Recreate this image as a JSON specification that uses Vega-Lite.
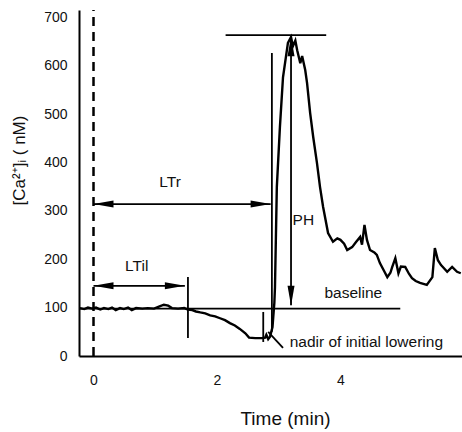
{
  "$schema": "https://vega.github.io/schema/vega-lite/v6.json",
  "width": 383,
  "height": 346,
  "autosize": "none",
  "padding": {"left": 79, "top": 10, "right": 0, "bottom": 76},
  "config": {
    "view": {"stroke": null},
    "font": "Liberation Sans",
    "axis": {"grid": false, "ticks": false, "domainColor": "black", "domainWidth": 2, "labelFont": "Liberation Sans", "labelFontSize": 14, "labelColor": "#111", "titleFont": "Liberation Sans", "titleFontWeight": "normal", "titleColor": "#111"}
  },
  "datasets": {
    "trace": [
      {"t": -0.22, "ca": 99}, {"t": -0.15, "ca": 97}, {"t": -0.09, "ca": 100}, {"t": -0.02, "ca": 98},
      {"t": 0.04, "ca": 100}, {"t": 0.11, "ca": 96}, {"t": 0.17, "ca": 99}, {"t": 0.24, "ca": 97},
      {"t": 0.30, "ca": 100}, {"t": 0.36, "ca": 95}, {"t": 0.43, "ca": 99}, {"t": 0.49, "ca": 97},
      {"t": 0.56, "ca": 100}, {"t": 0.62, "ca": 95}, {"t": 0.69, "ca": 99}, {"t": 0.79, "ca": 98},
      {"t": 0.88, "ca": 99}, {"t": 0.98, "ca": 98}, {"t": 1.08, "ca": 103}, {"t": 1.14, "ca": 106},
      {"t": 1.21, "ca": 104}, {"t": 1.27, "ca": 99}, {"t": 1.37, "ca": 98}, {"t": 1.47, "ca": 99},
      {"t": 1.53, "ca": 96}, {"t": 1.60, "ca": 95}, {"t": 1.66, "ca": 92}, {"t": 1.73, "ca": 90},
      {"t": 1.81, "ca": 88}, {"t": 1.89, "ca": 84}, {"t": 1.97, "ca": 82}, {"t": 2.05, "ca": 78},
      {"t": 2.13, "ca": 74}, {"t": 2.21, "ca": 68}, {"t": 2.29, "ca": 63}, {"t": 2.37, "ca": 56},
      {"t": 2.46, "ca": 47}, {"t": 2.52, "ca": 38}, {"t": 2.62, "ca": 37}, {"t": 2.73, "ca": 37},
      {"t": 2.78, "ca": 38}, {"t": 2.80, "ca": 44}, {"t": 2.83, "ca": 35}, {"t": 2.86, "ca": 40},
      {"t": 2.90, "ca": 60}, {"t": 2.93, "ca": 110}, {"t": 2.94, "ca": 142}, {"t": 2.97, "ca": 349},
      {"t": 3.02, "ca": 473}, {"t": 3.07, "ca": 576}, {"t": 3.15, "ca": 647}, {"t": 3.20, "ca": 659},
      {"t": 3.23, "ca": 640}, {"t": 3.27, "ca": 652}, {"t": 3.30, "ca": 632}, {"t": 3.35, "ca": 605},
      {"t": 3.38, "ca": 620}, {"t": 3.43, "ca": 591}, {"t": 3.46, "ca": 564}, {"t": 3.51, "ca": 502},
      {"t": 3.56, "ca": 452}, {"t": 3.62, "ca": 399}, {"t": 3.67, "ca": 349}, {"t": 3.72, "ca": 308},
      {"t": 3.80, "ca": 254}, {"t": 3.88, "ca": 236}, {"t": 3.95, "ca": 243}, {"t": 4.00, "ca": 240},
      {"t": 4.06, "ca": 232}, {"t": 4.11, "ca": 219}, {"t": 4.19, "ca": 225}, {"t": 4.25, "ca": 235},
      {"t": 4.32, "ca": 246}, {"t": 4.35, "ca": 230}, {"t": 4.39, "ca": 271}, {"t": 4.43, "ca": 240},
      {"t": 4.48, "ca": 219}, {"t": 4.55, "ca": 214}, {"t": 4.59, "ca": 209}, {"t": 4.64, "ca": 192},
      {"t": 4.71, "ca": 175}, {"t": 4.76, "ca": 163}, {"t": 4.81, "ca": 172}, {"t": 4.84, "ca": 184},
      {"t": 4.89, "ca": 202}, {"t": 4.94, "ca": 171}, {"t": 4.98, "ca": 185}, {"t": 5.05, "ca": 184},
      {"t": 5.11, "ca": 170}, {"t": 5.16, "ca": 161}, {"t": 5.22, "ca": 155}, {"t": 5.29, "ca": 151},
      {"t": 5.40, "ca": 147}, {"t": 5.49, "ca": 163}, {"t": 5.53, "ca": 223}, {"t": 5.58, "ca": 198},
      {"t": 5.63, "ca": 188}, {"t": 5.66, "ca": 184}, {"t": 5.73, "ca": 174}, {"t": 5.81, "ca": 184},
      {"t": 5.89, "ca": 174}, {"t": 5.95, "ca": 171}
    ],
    "rules": [
      {"name": "baseline", "x": -0.22, "x2": 4.97, "y": 98, "y2": 98},
      {"name": "LTil", "x": 0, "x2": 1.48, "y": 145, "y2": 145},
      {"name": "LTil end", "x": 1.53, "x2": 1.53, "y": 37, "y2": 163},
      {"name": "LTr", "x": 0, "x2": 2.87, "y": 314, "y2": 314},
      {"name": "LTr end", "x": 2.89, "x2": 2.89, "y": 50, "y2": 626},
      {"name": "nadir tick", "x": 2.75, "x2": 2.75, "y": 29, "y2": 91},
      {"name": "nadir pointer", "x": 2.83, "x2": 3.07, "y": 50, "y2": 17},
      {"name": "PH", "x": 3.2, "x2": 3.2, "y": 105, "y2": 660},
      {"name": "peak", "x": 2.14, "x2": 3.77, "y": 663, "y2": 663}
    ],
    "heads": [
      {"x": 0, "y": 314, "dir": "left"},
      {"x": 2.87, "y": 314, "dir": "right"},
      {"x": 0, "y": 145, "dir": "left"},
      {"x": 1.48, "y": 145, "dir": "right"},
      {"x": 3.2, "y": 661, "dir": "up"},
      {"x": 3.2, "y": 104, "dir": "down"}
    ],
    "labels": [
      {"label": "LTr", "x": 1.24, "y": 360},
      {"label": "LTil", "x": 0.70, "y": 187},
      {"label": "PH", "x": 3.40, "y": 281},
      {"label": "baseline", "x": 4.21, "y": 131},
      {"label": "nadir of initial lowering", "x": 4.42, "y": 28}
    ],
    "zero": [{"x": 0, "y": 0, "y2": 715}]
  },
  "layer": [
    {
      "data": {"name": "zero"},
      "mark": {"type": "rule", "color": "black", "strokeWidth": 2.5, "strokeDash": [9, 6]},
      "encoding": {
        "x": {"field": "x", "type": "quantitative", "scale": {"domain": [-0.235, 5.97], "nice": false, "zero": false},
              "axis": {"values": [0, 2, 4], "format": "d", "title": "Time (min)", "titleFontSize": 19, "labelPadding": 17, "titleX": 206, "titleY": 68, "titleBaseline": "alphabetic"}},
        "y": {"field": "y", "type": "quantitative", "scale": {"domain": [0, 715], "nice": false},
              "axis": {"values": [0, 100, 200, 300, 400, 500, 600, 700], "format": "d", "title": "[Ca²⁺]ᵢ ( nM)", "titleFontSize": 17, "labelPadding": 12, "titleX": -60, "titleY": 150, "titleBaseline": "middle"}},
        "y2": {"field": "y2"}
      }
    },
    {
      "data": {"name": "trace"},
      "mark": {"type": "line", "color": "black", "strokeWidth": 2.4},
      "encoding": {
        "x": {"field": "t", "type": "quantitative"},
        "y": {"field": "ca", "type": "quantitative"}
      }
    },
    {
      "data": {"name": "rules"},
      "mark": {"type": "rule", "color": "black", "strokeWidth": 1.8},
      "encoding": {
        "x": {"field": "x", "type": "quantitative"},
        "x2": {"field": "x2"},
        "y": {"field": "y", "type": "quantitative"},
        "y2": {"field": "y2"}
      }
    },
    {
      "data": {"name": "heads"},
      "mark": {"type": "point", "filled": true, "color": "black", "opacity": 1, "size": 400},
      "encoding": {
        "x": {"field": "x", "type": "quantitative"},
        "y": {"field": "y", "type": "quantitative"},
        "shape": {"field": "dir", "type": "nominal", "legend": null,
                  "scale": {"domain": ["left", "right", "up", "down"],
                            "range": ["M0,0L2,-0.35L2,0.35Z", "M0,0L-2,-0.35L-2,0.35Z", "M0,0L-0.35,2L0.35,2Z", "M0,0L-0.35,-2L0.35,-2Z"]}}
      }
    },
    {
      "data": {"name": "labels"},
      "mark": {"type": "text", "font": "Liberation Sans", "fontSize": 15.5, "color": "#111", "align": "center", "baseline": "middle"},
      "encoding": {
        "x": {"field": "x", "type": "quantitative"},
        "y": {"field": "y", "type": "quantitative"},
        "text": {"field": "label"}
      }
    }
  ]
}
